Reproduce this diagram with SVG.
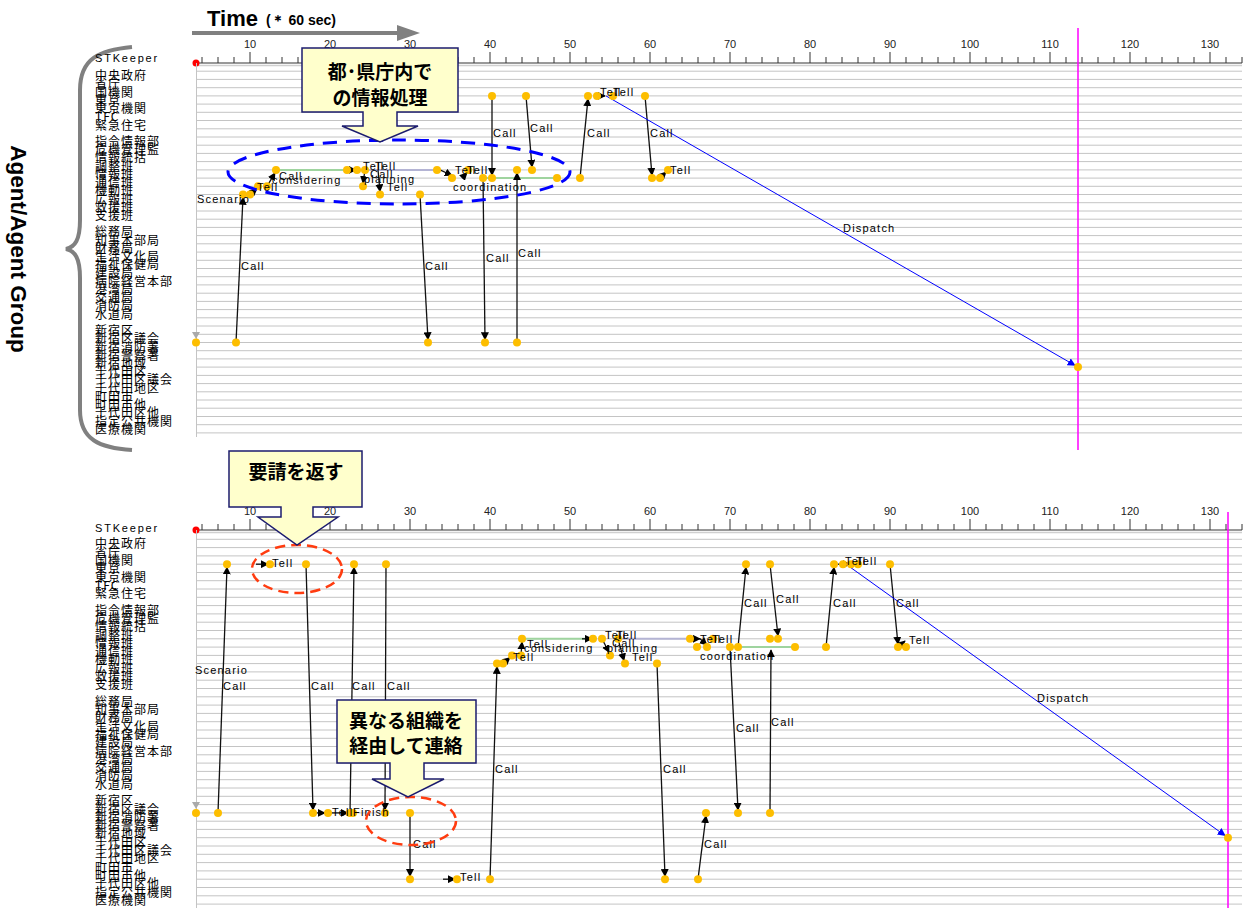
<svg xmlns="http://www.w3.org/2000/svg" width="1248" height="908" viewBox="0 0 1248 908">
<style>
.grid{stroke:#c4c4c4;stroke-width:1;fill:none}
.lbl{font-family:"Noto Sans CJK JP",sans-serif;font-size:12px;fill:#000;letter-spacing:1px}
.stk{font-family:"Liberation Sans",Arial,sans-serif;font-size:11px;fill:#000;letter-spacing:1.8px}
.tk{font-family:"Liberation Sans",Arial,sans-serif;font-size:11px;fill:#222;text-anchor:middle}
.ev{font-family:"Liberation Sans",Arial,sans-serif;font-size:11px;fill:#000;letter-spacing:1.2px}
.msg{stroke:#111;stroke-width:1.3;fill:none;marker-end:url(#ah)}
.disp{stroke:#0000ff;stroke-width:1;fill:none;marker-end:url(#ahb)}
.green{stroke:#9fd49f;stroke-width:2}
.plan{stroke:#b4b4d4;stroke-width:2}
.dot{fill:#FDBE00}
.mag{stroke:#ff00ff;stroke-width:1.5}
.call{fill:#FFFFCC;stroke:#1c1c6e;stroke-width:1.5}
.ct{font-family:"Noto Sans CJK JP",sans-serif;font-size:19px;font-weight:bold;fill:#000;text-anchor:middle}
.red{fill:none;stroke:#ff3c10;stroke-width:2.5;stroke-dasharray:10 6}
</style>
<defs>
<marker id="ah" viewBox="0 0 10 10" refX="9" refY="5" markerUnits="userSpaceOnUse" markerWidth="8" markerHeight="8" orient="auto"><path d="M0,0 L10,5 L0,10 Z" fill="#000"/></marker>
<marker id="ahb" viewBox="0 0 10 10" refX="9" refY="5" markerUnits="userSpaceOnUse" markerWidth="8" markerHeight="8" orient="auto"><path d="M0,0 L10,5 L0,10 Z" fill="#0000ff"/></marker>
<g id="axis">
<path d="M196 63H1242" stroke="#333" stroke-width="1"/>
<path d="M196 65.5H1242" stroke="#d0d0d0" stroke-width="1.5"/>
<path d="M202 57v6M218 57v6M234 57v6M266 57v6M282 57v6M298 57v6M314 57v6M346 57v6M362 57v6M378 57v6M394 57v6M426 57v6M442 57v6M458 57v6M474 57v6M506 57v6M522 57v6M538 57v6M554 57v6M586 57v6M602 57v6M618 57v6M634 57v6M666 57v6M682 57v6M698 57v6M714 57v6M746 57v6M762 57v6M778 57v6M794 57v6M826 57v6M842 57v6M858 57v6M874 57v6M906 57v6M922 57v6M938 57v6M954 57v6M986 57v6M1002 57v6M1018 57v6M1034 57v6M1066 57v6M1082 57v6M1098 57v6M1114 57v6M1146 57v6M1162 57v6M1178 57v6M1194 57v6M1226 57v6M1242 57v6M250 52v11M330 52v11M410 52v11M490 52v11M570 52v11M650 52v11M730 52v11M810 52v11M890 52v11M970 52v11M1050 52v11M1130 52v11M1210 52v11" stroke="#333" stroke-width="1"/>
<text class="tk" x="250" y="48">10</text><text class="tk" x="330" y="48">20</text><text class="tk" x="410" y="48">30</text><text class="tk" x="490" y="48">40</text><text class="tk" x="570" y="48">50</text><text class="tk" x="650" y="48">60</text><text class="tk" x="730" y="48">70</text><text class="tk" x="810" y="48">80</text><text class="tk" x="890" y="48">90</text><text class="tk" x="970" y="48">100</text><text class="tk" x="1050" y="48">110</text><text class="tk" x="1130" y="48">120</text><text class="tk" x="1210" y="48">130</text>
<circle cx="196" cy="63" r="3.5" fill="#ff0000"/>
</g>
</defs>
<rect width="1248" height="908" fill="#fff"/>

<!-- header -->
<g id="header">
<text x="207" y="26" font-family="Liberation Sans,Arial,sans-serif" font-size="22" font-weight="bold">Time</text>
<text x="266" y="25" font-family="Liberation Sans,Arial,sans-serif" font-size="14" font-weight="bold">(＊ 60 sec)</text>
<path d="M192 33H400" stroke="#808080" stroke-width="4"/>
<path d="M397 25L420 33L397 41Z" fill="#808080"/>
<path d="M132,47 C100,50 80,58 80,90 L80,220 C80,240 75,247 66,249 C75,251 80,258 80,278 L80,410 C80,440 100,448 132,450" fill="none" stroke="#808080" stroke-width="4"/>
<text transform="translate(11,249) rotate(90)" text-anchor="middle" font-family="Liberation Sans,Arial,sans-serif" font-size="22.5" font-weight="bold">Agent/Agent Group</text>
</g>

<!-- TOP PANEL -->
<g id="top-panel">
<use href="#axis"/>
<path class="grid" d="M197 71.2H1242M197 79.4H1242M197 87.7H1242M197 95.9H1242M197 104.1H1242M197 112.3H1242M197 120.5H1242M197 128.8H1242M197 137H1242M197 145.2H1242M197 153.4H1242M197 161.6H1242M197 169.9H1242M197 178.1H1242M197 186.3H1242M197 194.5H1242M197 202.7H1242M197 211H1242M197 219.2H1242M197 227.4H1242M197 235.6H1242M197 243.8H1242M197 252.1H1242M197 260.3H1242M197 268.5H1242M197 276.7H1242M197 284.9H1242M197 293.2H1242M197 301.4H1242M197 309.6H1242M197 317.8H1242M197 326H1242M197 334.3H1242M197 342.5H1242M197 350.7H1242M197 358.9H1242M197 367.1H1242M197 375.4H1242M197 383.6H1242M197 391.8H1242M197 400H1242M197 408.2H1242M197 416.5H1242M197 424.7H1242M197 432.9H1242M196.5 63V437"/>
<path d="M192 332L200 332L196 339Z" fill="#aaa"/>
<g id="top-labels">
<text class="stk" x="95" y="62">STKeeper</text>
<text class="lbl" x="95" y="80.2">中央政府</text>
<text class="lbl" x="95" y="88.4">省庁</text>
<text class="lbl" x="95" y="96.7">国機関</text>
<text class="lbl" x="95" y="104.9">東京</text>
<text class="lbl" x="95" y="113.1">東京機関</text>
<text class="lbl" x="95" y="121.3">TFC</text>
<text class="lbl" x="95" y="129.5">緊急住宅</text>
<text class="lbl" x="95" y="146">指令情報部</text>
<text class="lbl" x="95" y="154.2">危機管理監</text>
<text class="lbl" x="95" y="162.4">情報統括</text>
<text class="lbl" x="95" y="170.6">調整班</text>
<text class="lbl" x="95" y="178.9">情報班</text>
<text class="lbl" x="95" y="187.1">通信班</text>
<text class="lbl" x="95" y="195.3">機動班</text>
<text class="lbl" x="95" y="203.5">広報班</text>
<text class="lbl" x="95" y="211.7">救援班</text>
<text class="lbl" x="95" y="220">支援班</text>
<text class="lbl" x="95" y="236.4">総務局</text>
<text class="lbl" x="95" y="244.6">知事本部局</text>
<text class="lbl" x="95" y="252.8">財務局</text>
<text class="lbl" x="95" y="261.1">生活文化局</text>
<text class="lbl" x="95" y="269.3">福祉保健局</text>
<text class="lbl" x="95" y="277.5">建設局</text>
<text class="lbl" x="95" y="285.7">病院経営本部</text>
<text class="lbl" x="95" y="293.9">港湾局</text>
<text class="lbl" x="95" y="302.2">交通局</text>
<text class="lbl" x="95" y="310.4">消防局</text>
<text class="lbl" x="95" y="318.6">水道局</text>
<text class="lbl" x="95" y="335">新宿区</text>
<text class="lbl" x="95" y="343.3">新宿区議会</text>
<text class="lbl" x="95" y="351.5">新宿消防署</text>
<text class="lbl" x="95" y="359.7">新宿警察署</text>
<text class="lbl" x="95" y="367.9">新宿地域</text>
<text class="lbl" x="95" y="376.1">千代田区</text>
<text class="lbl" x="95" y="384.4">千代田区議会</text>
<text class="lbl" x="95" y="392.6">千代田地区</text>
<text class="lbl" x="95" y="400.8">町田市</text>
<text class="lbl" x="95" y="409">町田市他</text>
<text class="lbl" x="95" y="417.2">千代田区他</text>
<text class="lbl" x="95" y="425.5">指定公共機関</text>
<text class="lbl" x="95" y="433.7">医療機関</text>
</g>
<line class="mag" x1="1078" y1="28" x2="1078" y2="450"/>
</g>

<g id="top-connectors">
<line class="green" x1="276" y1="169.9" x2="347" y2="169.9"/>
<line class="plan" x1="365" y1="169.9" x2="437" y2="169.9"/>
<line class="green" x1="483" y1="178.1" x2="557" y2="178.1"/>
<path class="msg" d="M236 342.5L243 197.5"/>
<path class="msg" d="M250 194.5L257 188.5"/>
<path class="msg" d="M267 186.3L275 172.9"/>
<path class="msg" d="M344 169.9L356 169.9"/>
<path class="msg" d="M365 169.9L363 183.3"/>
<path class="msg" d="M378 169.9L380 191.5"/>
<path class="msg" d="M420 194.5L428 339.5"/>
<path class="msg" d="M440 169.9L452 175.5"/>
<path class="msg" d="M462 178.1L467 172.9"/>
<path class="msg" d="M492 95.9L492 175.1"/>
<path class="msg" d="M483 178.1L485 339.5"/>
<path class="msg" d="M517 342.5L517 172.9"/>
<path class="msg" d="M526 95.9L532 166.9"/>
<path class="msg" d="M580 178.1L588 98.9"/>
<path class="msg" d="M594 95.9L605 95.9"/>
<path class="msg" d="M645 95.9L652 175.1"/>
<path class="msg" d="M660 178.1L666 172"/>
<path class="disp" d="M606 95.9L1075 365.4"/>
</g>

<g id="top-events">
<g class="dot">
<circle cx="492" cy="95.9" r="4"/><circle cx="526" cy="95.9" r="4"/><circle cx="588" cy="95.9" r="4"/><circle cx="597" cy="95.9" r="4"/><circle cx="613" cy="95.9" r="4"/><circle cx="645" cy="95.9" r="4"/>
<circle cx="276" cy="169.9" r="4"/><circle cx="347" cy="169.9" r="4"/><circle cx="357" cy="169.9" r="4"/><circle cx="365" cy="169.9" r="4"/><circle cx="437" cy="169.9" r="4"/><circle cx="468" cy="169.9" r="4"/><circle cx="517" cy="169.9" r="4"/><circle cx="532" cy="169.9" r="4"/><circle cx="668" cy="169.9" r="4"/>
<circle cx="452" cy="178.1" r="4"/><circle cx="483" cy="178.1" r="4"/><circle cx="492" cy="178.1" r="4"/><circle cx="557" cy="178.1" r="4"/><circle cx="580" cy="178.1" r="4"/><circle cx="652" cy="178.1" r="4"/><circle cx="660" cy="178.1" r="4"/>
<circle cx="258" cy="186.3" r="4"/><circle cx="267" cy="186.3" r="4"/><circle cx="363" cy="186.3" r="4"/>
<circle cx="243" cy="194.5" r="4"/><circle cx="250" cy="194.5" r="4"/><circle cx="380" cy="194.5" r="4"/><circle cx="420" cy="194.5" r="4"/>
<circle cx="196" cy="342.5" r="4"/><circle cx="236" cy="342.5" r="4"/><circle cx="428" cy="342.5" r="4"/><circle cx="485" cy="342.5" r="4"/><circle cx="517" cy="342.5" r="4"/>
<circle cx="1078" cy="367.1" r="4"/>
</g>
<text class="ev" x="197" y="203">Scenario</text>
<text class="ev" x="241" y="270">Call</text>
<text class="ev" x="257" y="191">Tell</text>
<text class="ev" x="279" y="180">Call</text>
<text class="ev" x="272" y="184">considering</text>
<text class="ev" x="363" y="170">Tell</text>
<text class="ev" x="375" y="170">Tell</text>
<text class="ev" x="370" y="178">Call</text>
<text class="ev" x="364" y="183">planning</text>
<text class="ev" x="387" y="191">Tell</text>
<text class="ev" x="425" y="270">Call</text>
<text class="ev" x="455" y="174">Tell</text>
<text class="ev" x="467" y="174">Tell</text>
<text class="ev" x="453" y="191">coordination</text>
<text class="ev" x="493" y="137">Call</text>
<text class="ev" x="486" y="262">Call</text>
<text class="ev" x="518" y="257">Call</text>
<text class="ev" x="530" y="132">Call</text>
<text class="ev" x="587" y="137">Call</text>
<text class="ev" x="600" y="96">Tell</text>
<text class="ev" x="613" y="96">Tell</text>
<text class="ev" x="650" y="137">Call</text>
<text class="ev" x="670" y="174">Tell</text>
<text class="ev" x="843" y="232">Dispatch</text>
</g>

<g id="top-annotations">
<ellipse cx="399" cy="172" rx="171" ry="32" fill="none" stroke="#0000ff" stroke-width="3" stroke-dasharray="14 9"/>
<path class="call" d="M302,48 H458 V112 H397 V126 H418 L380,142 L342,126 H363 V112 H302 Z"/>
<text class="ct" x="380" y="79">都･県庁内で</text>
<text class="ct" x="380" y="105">の情報処理</text>
</g>

<!-- BOTTOM PANEL -->
<g id="bottom-panel">
<use href="#axis" transform="translate(0,467)"/>
<path class="grid" d="M197 539.3H1242M197 547.6H1242M197 555.9H1242M197 564.2H1242M197 572.5H1242M197 580.7H1242M197 589H1242M197 597.3H1242M197 605.6H1242M197 613.9H1242M197 622.2H1242M197 630.5H1242M197 638.8H1242M197 647.1H1242M197 655.4H1242M197 663.6H1242M197 671.9H1242M197 680.2H1242M197 688.5H1242M197 696.8H1242M197 705.1H1242M197 713.4H1242M197 721.7H1242M197 730H1242M197 738.3H1242M197 746.5H1242M197 754.8H1242M197 763.1H1242M197 771.4H1242M197 779.7H1242M197 788H1242M197 796.3H1242M197 804.6H1242M197 812.9H1242M197 821.2H1242M197 829.4H1242M197 837.7H1242M197 846H1242M197 854.3H1242M197 862.6H1242M197 870.9H1242M197 879.2H1242M197 887.5H1242M197 895.8H1242M197 904.1H1242M196.5 530V908"/>
<path d="M192 802L200 802L196 809Z" fill="#aaa"/>
<g id="bottom-labels">
<text class="stk" x="95" y="532">STKeeper</text>
<text class="lbl" x="95" y="548.3">中央政府</text>
<text class="lbl" x="95" y="556.6">省庁</text>
<text class="lbl" x="95" y="564.9">国機関</text>
<text class="lbl" x="95" y="573.2">東京</text>
<text class="lbl" x="95" y="581.5">東京機関</text>
<text class="lbl" x="95" y="589.7">TFC</text>
<text class="lbl" x="95" y="598">緊急住宅</text>
<text class="lbl" x="95" y="614.6">指令情報部</text>
<text class="lbl" x="95" y="622.9">危機管理監</text>
<text class="lbl" x="95" y="631.2">情報統括</text>
<text class="lbl" x="95" y="639.5">調整班</text>
<text class="lbl" x="95" y="647.8">情報班</text>
<text class="lbl" x="95" y="656.1">通信班</text>
<text class="lbl" x="95" y="664.4">機動班</text>
<text class="lbl" x="95" y="672.6">広報班</text>
<text class="lbl" x="95" y="680.9">救援班</text>
<text class="lbl" x="95" y="689.2">支援班</text>
<text class="lbl" x="95" y="705.8">総務局</text>
<text class="lbl" x="95" y="714.1">知事本部局</text>
<text class="lbl" x="95" y="722.4">財務局</text>
<text class="lbl" x="95" y="730.7">生活文化局</text>
<text class="lbl" x="95" y="739">福祉保健局</text>
<text class="lbl" x="95" y="747.3">建設局</text>
<text class="lbl" x="95" y="755.5">病院経営本部</text>
<text class="lbl" x="95" y="763.8">港湾局</text>
<text class="lbl" x="95" y="772.1">交通局</text>
<text class="lbl" x="95" y="780.4">消防局</text>
<text class="lbl" x="95" y="788.7">水道局</text>
<text class="lbl" x="95" y="805.3">新宿区</text>
<text class="lbl" x="95" y="813.6">新宿区議会</text>
<text class="lbl" x="95" y="821.9">新宿消防署</text>
<text class="lbl" x="95" y="830.2">新宿警察署</text>
<text class="lbl" x="95" y="838.4">新宿地域</text>
<text class="lbl" x="95" y="846.7">千代田区</text>
<text class="lbl" x="95" y="855">千代田区議会</text>
<text class="lbl" x="95" y="863.3">千代田地区</text>
<text class="lbl" x="95" y="871.6">町田市</text>
<text class="lbl" x="95" y="879.9">町田市他</text>
<text class="lbl" x="95" y="888.2">千代田区他</text>
<text class="lbl" x="95" y="896.5">指定公共機関</text>
<text class="lbl" x="95" y="904.8">医療機関</text>
</g>
<line class="mag" x1="1228" y1="512" x2="1228" y2="908"/>
</g>

<g id="bottom-connectors">
<line class="green" x1="522" y1="638.8" x2="593" y2="638.8"/>
<line class="plan" x1="618" y1="638.8" x2="690" y2="638.8"/>
<line class="green" x1="730" y1="647.1" x2="795" y2="647.1"/>
<path class="msg" d="M218 812.9L227 567.2"/>
<path class="msg" d="M256 564.2L268 564.2"/>
<path class="msg" d="M306 564.2L313 809.9"/>
<path class="msg" d="M313 812.9L325 812.9"/>
<path class="msg" d="M328 812.9L348 812.9"/>
<path class="msg" d="M350 812.9L354 567.2"/>
<path class="msg" d="M386 564.2L385 809.9"/>
<path class="msg" d="M410 812.9L410 876.2"/>
<path class="msg" d="M443 879.2L455 879.2"/>
<path class="msg" d="M490 879.2L497 666.6"/>
<path class="msg" d="M503 663.6L510 657.5"/>
<path class="msg" d="M521 655.4L522 642"/>
<path class="msg" d="M582 638.8L592 638.8"/>
<path class="msg" d="M602 638.8L609 652.4"/>
<path class="msg" d="M618 638.8L624 660.6"/>
<path class="msg" d="M688 638.8L700 638.8"/>
<path class="msg" d="M700 638.8L707 645"/>
<path class="msg" d="M657 663.6L665 876.2"/>
<path class="msg" d="M698 879.2L706 815.9"/>
<path class="msg" d="M730 647.1L738 809.9"/>
<path class="msg" d="M770 812.9L771 650.1"/>
<path class="msg" d="M738 647.1L746 567.2"/>
<path class="msg" d="M770 564.2L778 635.8"/>
<path class="msg" d="M826 647.1L834 567.2"/>
<path class="msg" d="M838 564.2L850 564.2"/>
<path class="msg" d="M890 564.2L898 644.1"/>
<path class="msg" d="M898 647.1L905 641"/>
<path class="disp" d="M846 564.2L1225 835.5"/>
</g>

<g id="bottom-events">
<g class="dot">
<circle cx="227" cy="564.2" r="4"/><circle cx="270" cy="564.2" r="4"/><circle cx="306" cy="564.2" r="4"/><circle cx="354" cy="564.2" r="4"/><circle cx="386" cy="564.2" r="4"/><circle cx="746" cy="564.2" r="4"/><circle cx="770" cy="564.2" r="4"/><circle cx="834" cy="564.2" r="4"/><circle cx="843" cy="564.2" r="4"/><circle cx="851" cy="564.2" r="4"/><circle cx="858" cy="564.2" r="4"/><circle cx="890" cy="564.2" r="4"/>
<circle cx="522" cy="638.8" r="4"/><circle cx="593" cy="638.8" r="4"/><circle cx="602" cy="638.8" r="4"/><circle cx="618" cy="638.8" r="4"/><circle cx="690" cy="638.8" r="4"/><circle cx="713" cy="638.8" r="4"/><circle cx="770" cy="638.8" r="4"/><circle cx="778" cy="638.8" r="4"/>
<circle cx="697" cy="647.1" r="4"/><circle cx="707" cy="647.1" r="4"/><circle cx="730" cy="647.1" r="4"/><circle cx="738" cy="647.1" r="4"/><circle cx="795" cy="647.1" r="4"/><circle cx="826" cy="647.1" r="4"/><circle cx="898" cy="647.1" r="4"/><circle cx="906" cy="647.1" r="4"/>
<circle cx="512" cy="655.4" r="4"/><circle cx="521" cy="655.4" r="4"/><circle cx="610" cy="655.4" r="4"/>
<circle cx="497" cy="663.6" r="4"/><circle cx="503" cy="663.6" r="4"/><circle cx="625" cy="663.6" r="4"/><circle cx="657" cy="663.6" r="4"/>
<circle cx="196" cy="812.9" r="4"/><circle cx="218" cy="812.9" r="4"/><circle cx="313" cy="812.9" r="4"/><circle cx="328" cy="812.9" r="4"/><circle cx="350" cy="812.9" r="4"/><circle cx="353" cy="812.9" r="4"/><circle cx="385" cy="812.9" r="4"/><circle cx="410" cy="812.9" r="4"/><circle cx="706" cy="812.9" r="4"/><circle cx="738" cy="812.9" r="4"/><circle cx="770" cy="812.9" r="4"/>
<circle cx="1228" cy="837.7" r="4"/>
<circle cx="410" cy="879.2" r="4"/><circle cx="457" cy="879.2" r="4"/><circle cx="490" cy="879.2" r="4"/><circle cx="665" cy="879.2" r="4"/><circle cx="698" cy="879.2" r="4"/>
</g>
<text class="ev" x="195" y="674">Scenario</text>
<text class="ev" x="223" y="690">Call</text>
<text class="ev" x="311" y="690">Call</text>
<text class="ev" x="352" y="690">Call</text>
<text class="ev" x="387" y="690">Call</text>
<text class="ev" x="272" y="567">Tell</text>
<text class="ev" x="332" y="816">Tell</text>
<text class="ev" x="353" y="816">Finish</text>
<text class="ev" x="413" y="848">Call</text>
<text class="ev" x="460" y="881">Tell</text>
<text class="ev" x="495" y="773">Call</text>
<text class="ev" x="513" y="661">Tell</text>
<text class="ev" x="527" y="648">Tell</text>
<text class="ev" x="524" y="652">considering</text>
<text class="ev" x="605" y="639">Tell</text>
<text class="ev" x="616" y="639">Tell</text>
<text class="ev" x="612" y="647">Call</text>
<text class="ev" x="607" y="652">planning</text>
<text class="ev" x="632" y="661">Tell</text>
<text class="ev" x="700" y="643">Tell</text>
<text class="ev" x="712" y="643">Tell</text>
<text class="ev" x="700" y="660">coordination</text>
<text class="ev" x="663" y="773">Call</text>
<text class="ev" x="704" y="848">Call</text>
<text class="ev" x="736" y="732">Call</text>
<text class="ev" x="771" y="726">Call</text>
<text class="ev" x="744" y="607">Call</text>
<text class="ev" x="776" y="603">Call</text>
<text class="ev" x="833" y="607">Call</text>
<text class="ev" x="845" y="565">Tell</text>
<text class="ev" x="856" y="565">Tell</text>
<text class="ev" x="896" y="607">Call</text>
<text class="ev" x="909" y="644">Tell</text>
<text class="ev" x="1037" y="702">Dispatch</text>
</g>

<g id="bottom-annotations">
<ellipse class="red" cx="297" cy="569" rx="45" ry="24"/>
<ellipse class="red" cx="411" cy="821" rx="45" ry="24"/>
<path class="call" d="M229,451 H362 V507 H313 V517 H338 L297,545 L258,517 H281 V507 H229 Z"/>
<text class="ct" x="296" y="479">要請を返す</text>
<path class="call" d="M337,700 H476 V763 H424 V779 H444 L408,797 L372,779 H390 V763 H337 Z"/>
<text class="ct" x="406" y="728">異なる組織を</text>
<text class="ct" x="406" y="753">経由して連絡</text>
</g>
</svg>
